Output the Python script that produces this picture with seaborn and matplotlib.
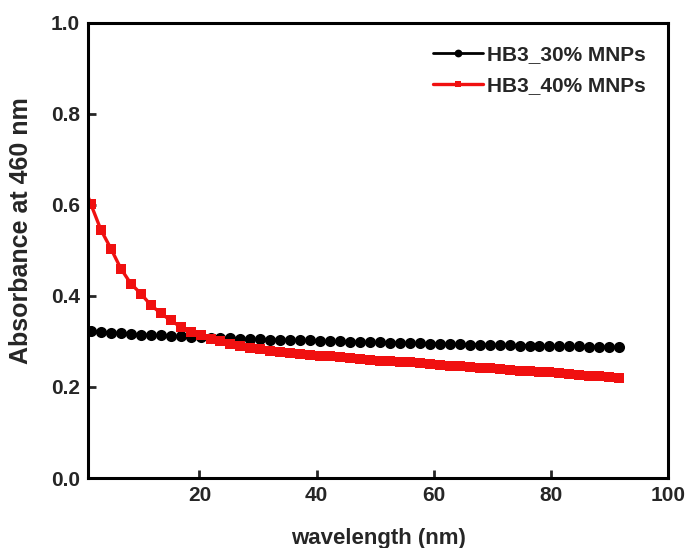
import matplotlib
matplotlib.use("Agg")
import matplotlib.pyplot as plt
import seaborn as sns
import pandas as pd

x_vals = [-0.2, 1.5, 3.2, 4.9, 6.6, 8.3, 10.0, 11.7, 13.4, 15.1, 16.8, 18.5, 20.2, 21.9,
          23.6, 25.3, 27.0, 28.7, 30.4, 32.1, 33.8, 35.5, 37.2, 38.9, 40.6, 42.3,
          44.0, 45.7, 47.4, 49.1, 50.8, 52.5, 54.2, 55.9, 57.6, 59.3, 61.0, 62.7,
          64.4, 66.1, 67.8, 69.5, 71.2, 72.9, 74.6, 76.3, 78.0, 79.7, 81.4, 83.1,
          84.8, 86.5, 88.2, 89.9, 91.6]

hb3_30 = [0.324, 0.323, 0.321, 0.319, 0.318, 0.316, 0.315, 0.314, 0.313, 0.312, 0.311,
          0.310, 0.309, 0.308, 0.307, 0.307, 0.306, 0.305, 0.305, 0.304, 0.303,
          0.303, 0.302, 0.302, 0.301, 0.300, 0.300, 0.299, 0.299, 0.298, 0.298,
          0.297, 0.297, 0.296, 0.296, 0.295, 0.295, 0.294, 0.294, 0.293, 0.293,
          0.292, 0.292, 0.292, 0.291, 0.291, 0.290, 0.290, 0.290, 0.289, 0.289,
          0.288, 0.288, 0.288, 0.287]

hb3_40 = [0.660, 0.601, 0.545, 0.504, 0.460, 0.427, 0.405, 0.380, 0.362, 0.346, 0.332,
          0.321, 0.313, 0.306, 0.300, 0.295, 0.290, 0.286, 0.283, 0.280, 0.277,
          0.275, 0.273, 0.271, 0.269, 0.267, 0.265, 0.264, 0.262, 0.260, 0.258,
          0.257, 0.255, 0.254, 0.252, 0.250, 0.248, 0.247, 0.245, 0.244, 0.242,
          0.241, 0.239, 0.238, 0.236, 0.235, 0.233, 0.232, 0.230, 0.229, 0.227,
          0.225, 0.223, 0.221, 0.219]

labels = ["HB3_30% MNPs", "HB3_40% MNPs"]
x_ticks = [20, 40, 60, 80, 100]
y_ticks = [0.0, 0.2, 0.4, 0.6, 0.8, 1.0]

df30 = pd.DataFrame({"x": x_vals, "y": hb3_30})
df40 = pd.DataFrame({"x": x_vals, "y": hb3_40})

sns.set_style("ticks")
plt.rcParams["font.family"] = ["Liberation Sans", "DejaVu Sans"]
plt.rcParams["font.weight"] = "bold"

fig = plt.figure(figsize=(6.89, 5.48), dpi=100)
ax = fig.add_axes([0.1277, 0.1277, 0.8425, 0.831])

sns.lineplot(data=df30, x="x", y="y", ax=ax, color="black", marker="o",
             markersize=8, markeredgewidth=0, linewidth=2, label=labels[0])
sns.lineplot(data=df40, x="x", y="y", ax=ax, color="#f01010", marker="s",
             markersize=7, markeredgewidth=0, linewidth=2.4, label=labels[1])

ax.set_xlim(1, 100)
ax.set_ylim(0, 1.0)
ax.set_xticks(x_ticks)
ax.set_yticks(y_ticks)
ax.set_yticklabels([f"{v:.1f}" for v in y_ticks])
ax.tick_params(direction="in", length=6, width=2, labelsize=15, pad=6)
for lab in ax.get_xticklabels() + ax.get_yticklabels():
    lab.set_fontweight("bold")
for sp in ax.spines.values():
    sp.set_visible(True)
    sp.set_linewidth(2.2)
    sp.set_color("black")

ax.set_xlabel("wavelength (nm)", fontsize=16, fontweight="bold", labelpad=16)
ax.set_ylabel("Absorbance at 460 nm", fontsize=18, fontweight="bold")
ax.yaxis.set_label_coords(-0.095, 0.543)

leg = ax.legend(loc="upper right", frameon=False, fontsize=15, handlelength=2.4,
                handletextpad=0.2, borderaxespad=0.7, labelspacing=0.55,
                markerscale=0.7)
for t in leg.get_texts():
    t.set_fontweight("bold")

fig.savefig("out.png", dpi=100)
